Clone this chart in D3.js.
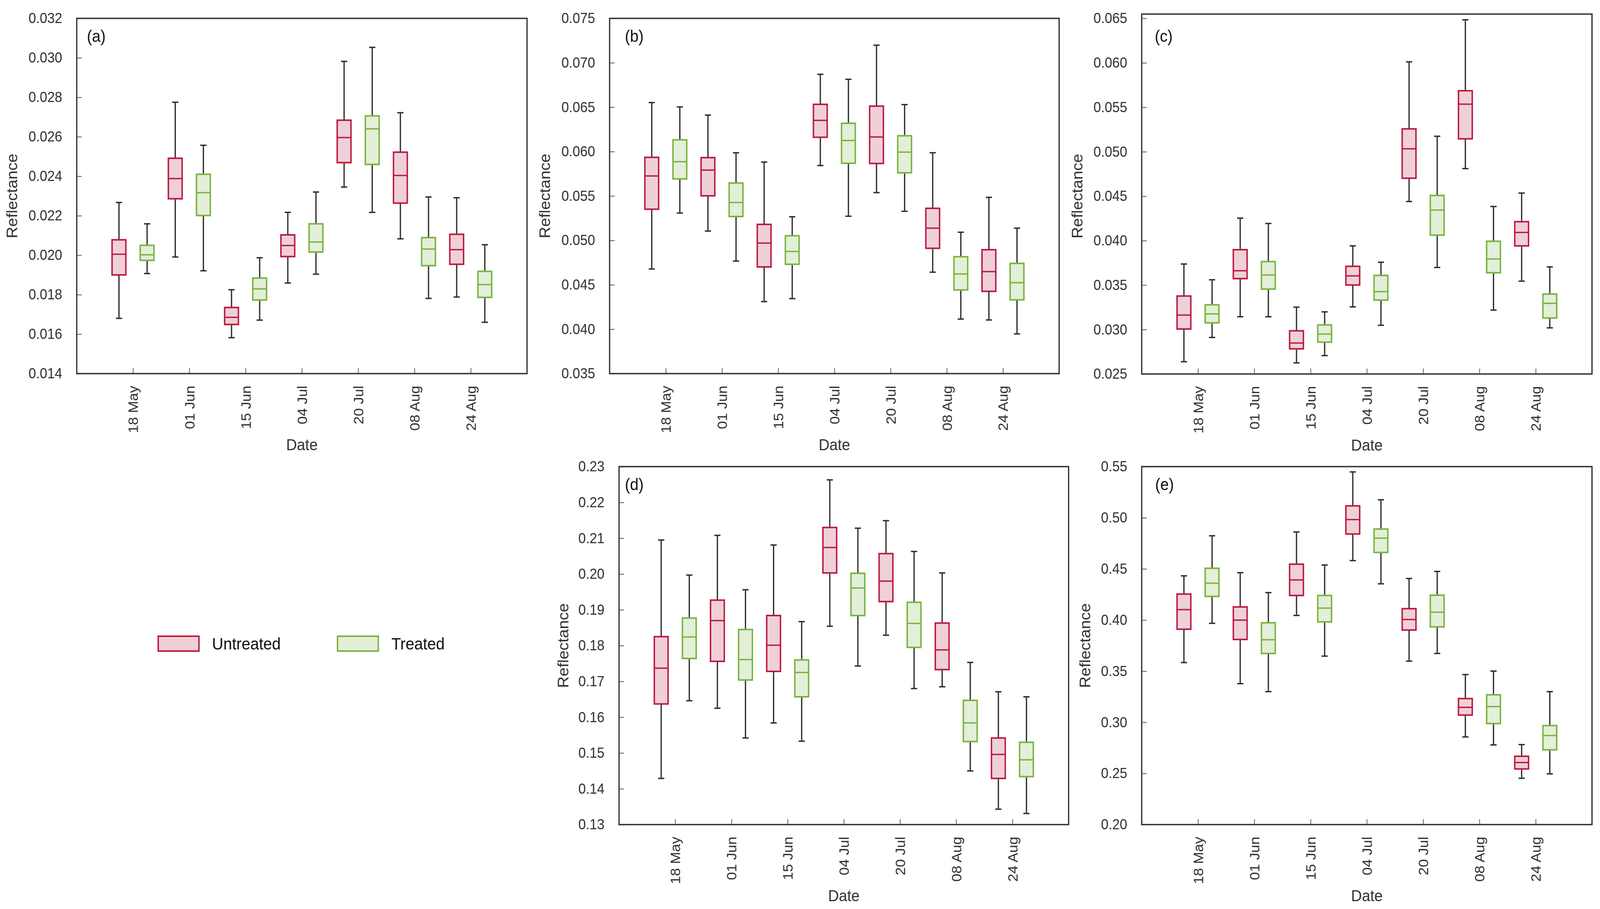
<!DOCTYPE html>
<html>
<head>
<meta charset="utf-8">
<script src="https://cdn.jsdelivr.net/npm/d3@7"></script>
<style>
  html, body { margin: 0; padding: 0; background: #fff; overflow: hidden; }
  #chart { width: 100vw; height: 100vh; }
  svg { display: block; font-family: "Liberation Sans", Arial, sans-serif; }
</style>
</head>
<body>
<div id="chart"></div>
<script>
// dates on the x axis
var dates = ["18 May", "01 Jun", "15 Jun", "04 Jul", "20 Jul", "08 Aug", "24 Aug"];

// each box: [lower whisker, q1, median, q3, upper whisker]
var aUntreated = [
  [0.01680, 0.01900, 0.02005, 0.02078, 0.02267],
  [0.01991, 0.02286, 0.02388, 0.02491, 0.02775],
  [0.01582, 0.01649, 0.01685, 0.01735, 0.01825],
  [0.01859, 0.01993, 0.02049, 0.02103, 0.02217],
  [0.02345, 0.02469, 0.02596, 0.02684, 0.02982],
  [0.02083, 0.02264, 0.02404, 0.02522, 0.02722],
  [0.01788, 0.01954, 0.02028, 0.02106, 0.02291]
];
var aTreated = [
  [0.01907, 0.01974, 0.02002, 0.02050, 0.02159],
  [0.01921, 0.02201, 0.02317, 0.02410, 0.02557],
  [0.01671, 0.01773, 0.01829, 0.01884, 0.01987],
  [0.01904, 0.02016, 0.02067, 0.02159, 0.02320],
  [0.02217, 0.02460, 0.02640, 0.02706, 0.03053],
  [0.01781, 0.01947, 0.02031, 0.02089, 0.02295],
  [0.01660, 0.01786, 0.01851, 0.01918, 0.02053]
];
var bUntreated = [
  [0.04678, 0.05351, 0.05725, 0.05935, 0.06552],
  [0.05105, 0.05502, 0.05791, 0.05932, 0.06411],
  [0.04311, 0.04701, 0.04970, 0.05180, 0.05882],
  [0.05843, 0.06161, 0.06352, 0.06532, 0.06870],
  [0.05538, 0.05866, 0.06165, 0.06512, 0.07198],
  [0.04642, 0.04911, 0.05138, 0.05361, 0.05987],
  [0.04104, 0.04426, 0.04649, 0.04895, 0.05485]
];
var bTreated = [
  [0.05308, 0.05692, 0.05886, 0.06132, 0.06503],
  [0.04767, 0.05269, 0.05426, 0.05646, 0.05987],
  [0.04344, 0.04731, 0.04875, 0.05052, 0.05266],
  [0.05272, 0.05869, 0.06125, 0.06319, 0.06814],
  [0.05328, 0.05761, 0.05994, 0.06178, 0.06529],
  [0.04114, 0.04442, 0.04622, 0.04816, 0.05092],
  [0.03947, 0.04331, 0.04524, 0.04741, 0.05138]
];
var cUntreated = [
  [0.02638, 0.03006, 0.03163, 0.03377, 0.03737],
  [0.03144, 0.03573, 0.03662, 0.03898, 0.04253],
  [0.02625, 0.02783, 0.02848, 0.02986, 0.03252],
  [0.03255, 0.03501, 0.03603, 0.03711, 0.03941],
  [0.04440, 0.04702, 0.05033, 0.05257, 0.06011],
  [0.04810, 0.05145, 0.05535, 0.05686, 0.06484],
  [0.03544, 0.03941, 0.04092, 0.04213, 0.04535]
];
var cTreated = [
  [0.02911, 0.03075, 0.03176, 0.03278, 0.03560],
  [0.03144, 0.03455, 0.03613, 0.03764, 0.04193],
  [0.02707, 0.02858, 0.02950, 0.03052, 0.03199],
  [0.03048, 0.03331, 0.03426, 0.03609, 0.03757],
  [0.03698, 0.04062, 0.04344, 0.04508, 0.05174],
  [0.03219, 0.03639, 0.03793, 0.03993, 0.04384],
  [0.03019, 0.03130, 0.03294, 0.03399, 0.03705]
];
var dUntreated = [
  [0.1429, 0.1637, 0.1737, 0.1825, 0.2095],
  [0.1625, 0.1756, 0.1870, 0.1927, 0.2108],
  [0.1584, 0.1728, 0.1801, 0.1884, 0.2081],
  [0.1854, 0.2003, 0.2074, 0.2130, 0.2263],
  [0.1829, 0.1923, 0.1980, 0.2057, 0.2149],
  [0.1685, 0.1733, 0.1788, 0.1863, 0.2003],
  [0.1343, 0.1429, 0.1496, 0.1542, 0.1671]
];
var dTreated = [
  [0.1646, 0.1764, 0.1824, 0.1877, 0.1997],
  [0.1542, 0.1704, 0.1761, 0.1845, 0.1956],
  [0.1533, 0.1657, 0.1725, 0.1760, 0.1867],
  [0.1743, 0.1884, 0.1961, 0.2002, 0.2128],
  [0.1680, 0.1795, 0.1862, 0.1921, 0.2063],
  [0.1450, 0.1532, 0.1584, 0.1647, 0.1753],
  [0.1331, 0.1434, 0.1481, 0.1530, 0.1657]
];
var eUntreated = [
  [0.3584, 0.3910, 0.4102, 0.4254, 0.4432],
  [0.3378, 0.3810, 0.3999, 0.4128, 0.4463],
  [0.4045, 0.4240, 0.4392, 0.4546, 0.4861],
  [0.4581, 0.4841, 0.4982, 0.5116, 0.5448],
  [0.3598, 0.3902, 0.4005, 0.4111, 0.4406],
  [0.2857, 0.3071, 0.3146, 0.3232, 0.3467],
  [0.2453, 0.2544, 0.2607, 0.2668, 0.2782]
];
var eTreated = [
  [0.3968, 0.4231, 0.4360, 0.4506, 0.4824],
  [0.3300, 0.3673, 0.3807, 0.3973, 0.4268],
  [0.3647, 0.3982, 0.4117, 0.4240, 0.4538],
  [0.4354, 0.4661, 0.4801, 0.4890, 0.5176],
  [0.3673, 0.3933, 0.4077, 0.4243, 0.4475],
  [0.2779, 0.2988, 0.3154, 0.3269, 0.3501],
  [0.2496, 0.2731, 0.2871, 0.2968, 0.3300]
];

// y tick values per panel
var aTicks = [0.014, 0.016, 0.018, 0.020, 0.022, 0.024, 0.026, 0.028, 0.030, 0.032];
var bTicks = [0.035, 0.040, 0.045, 0.050, 0.055, 0.060, 0.065, 0.070, 0.075];
var cTicks = [0.025, 0.030, 0.035, 0.040, 0.045, 0.050, 0.055, 0.060, 0.065];
var dTicks = [0.13, 0.14, 0.15, 0.16, 0.17, 0.18, 0.19, 0.20, 0.21, 0.22, 0.23];
var eTicks = [0.20, 0.25, 0.30, 0.35, 0.40, 0.45, 0.50, 0.55];

var groups = ["Untreated", "Treated"];
var stroke = { Untreated: "#bd1a40", Treated: "#7ab43f" };
var fill = { Untreated: "#efd0d8", Treated: "#e3efd8" };

var W = 4399, H = 2326;
// the drawing is laid out on a 4399x2326 grid and stretched to the window
var svg = d3.select("#chart").append("svg")
    .attr("viewBox", "0 0 " + W + " " + H)
    .attr("preserveAspectRatio", "none")
    .attr("width", "100%")
    .attr("height", "100%");

var panels = [
  { tag: "(a)", u: aUntreated, t: aTreated, ticks: aTicks, fmt: ".3f",
    left: 211, right: 1449, top: 47, bottom: 956, frameTop: 47, tagDx: 28, titleDx: 178 },
  { tag: "(b)", u: bUntreated, t: bTreated, ticks: bTicks, fmt: ".3f",
    left: 1676, right: 2912, top: 47, bottom: 956, frameTop: 47, tagDx: 42, titleDx: 178 },
  { tag: "(c)", u: cUntreated, t: cTreated, ticks: cTicks, fmt: ".3f",
    left: 3139, right: 4377, top: 47, bottom: 957, frameTop: 36, tagDx: 36, titleDx: 177 },
  { tag: "(d)", u: dUntreated, t: dTreated, ticks: dTicks, fmt: ".2f",
    left: 1702, right: 2938, top: 1194, bottom: 2110, frameTop: 1194, tagDx: 16, titleDx: 154 },
  { tag: "(e)", u: eUntreated, t: eTreated, ticks: eTicks, fmt: ".2f",
    left: 3139, right: 4377, top: 1194, bottom: 2110, frameTop: 1194, tagDx: 37, titleDx: 156 }
];

panels.forEach(function (p) {
    var g = svg.append("g");

    var x = d3.scalePoint().domain(dates).range([p.left, p.right]).padding(1);
    var y = d3.scaleLinear()
        .domain([p.ticks[0], p.ticks[p.ticks.length - 1]])
        .range([p.bottom, p.top]);
    var step = x.step();
    var bw = step * 0.245;
    var cap = step * 0.11;

    // y axis
    var ya = g.append("g")
        .attr("transform", "translate(" + p.left + ",0)")
        .call(d3.axisLeft(y).tickValues(p.ticks).tickFormat(d3.format(p.fmt))
            .tickSize(-14).tickPadding(40));
    ya.select(".domain").remove();
    ya.selectAll(".tick line").attr("stroke", "#777").attr("stroke-width", 2.5);
    ya.selectAll(".tick text").attr("fill", "#333").style("font-size", "37px");

    // x axis
    var xa = g.append("g")
        .attr("transform", "translate(0," + p.bottom + ")")
        .call(d3.axisBottom(x).tickSize(-14));
    xa.select(".domain").remove();
    xa.selectAll(".tick line").attr("stroke", "#777").attr("stroke-width", 2.5);
    xa.selectAll(".tick text")
        .attr("fill", "#333")
        .style("font-size", "37px")
        .attr("transform", "rotate(-90)")
        .attr("x", -31)
        .attr("y", 0)
        .attr("dy", "0.36em")
        .style("text-anchor", "end");

    // frame
    g.append("rect")
        .attr("x", p.left).attr("y", p.frameTop)
        .attr("width", p.right - p.left).attr("height", p.bottom - p.frameTop)
        .attr("fill", "none").attr("stroke", "#333").attr("stroke-width", 3.5);

    // boxes
    groups.forEach(function (grp, gi) {
        var vals = gi === 0 ? p.u : p.t;
        var off = gi === 0 ? -0.25 * step : 0.25 * step;
        var bx = g.selectAll(null).data(vals).enter().append("g")
            .attr("transform", function (d, i) { return "translate(" + (x(dates[i]) + off) + ",0)"; });

        // whiskers
        bx.append("line")
            .attr("x1", 0).attr("x2", 0)
            .attr("y1", function (d) { return y(d[4]); })
            .attr("y2", function (d) { return y(d[3]); })
            .attr("stroke", "#2e2e2e").attr("stroke-width", 3.5);
        bx.append("line")
            .attr("x1", 0).attr("x2", 0)
            .attr("y1", function (d) { return y(d[1]); })
            .attr("y2", function (d) { return y(d[0]); })
            .attr("stroke", "#2e2e2e").attr("stroke-width", 3.5);
        [0, 4].forEach(function (k) {
            bx.append("line")
                .attr("x1", -cap / 2).attr("x2", cap / 2)
                .attr("y1", function (d) { return y(d[k]); })
                .attr("y2", function (d) { return y(d[k]); })
                .attr("stroke", "#2e2e2e").attr("stroke-width", 3.5);
        });

        bx.append("rect")
            .attr("x", -bw / 2).attr("width", bw)
            .attr("y", function (d) { return y(d[3]); })
            .attr("height", function (d) { return y(d[1]) - y(d[3]); })
            .attr("fill", fill[grp])
            .attr("stroke", stroke[grp]).attr("stroke-width", 4);

        bx.append("line")
            .attr("x1", -bw / 2).attr("x2", bw / 2)
            .attr("y1", function (d) { return y(d[2]); })
            .attr("y2", function (d) { return y(d[2]); })
            .attr("stroke", stroke[grp]).attr("stroke-width", 3.5);
    });

    // panel tag
    g.append("text")
        .attr("x", p.left + p.tagDx).attr("y", p.top + 60)
        .style("font-size", "42px").attr("fill", "#111")
        .text(p.tag);

    // axis titles
    g.append("text")
        .attr("transform", "translate(" + (p.left - p.titleDx) + "," + ((p.top + p.bottom) / 2) + ") rotate(-90)")
        .attr("dy", "0.35em")
        .style("text-anchor", "middle").style("font-size", "41px").attr("fill", "#333")
        .text("Reflectance");
    g.append("text")
        .attr("x", (p.left + p.right) / 2).attr("y", p.bottom + 196)
        .style("text-anchor", "middle").style("font-size", "41px").attr("fill", "#333")
        .text("Date");
});

// legend
var legendX = d3.scalePoint().domain(groups).range([435, 928]);
var lg = svg.selectAll(".legend").data(groups).enter().append("g")
    .attr("class", "legend")
    .attr("transform", function (d) { return "translate(" + legendX(d) + ",1647)"; });
lg.append("rect")
    .attr("x", 0).attr("y", -19).attr("width", 112).attr("height", 38)
    .attr("fill", function (d) { return fill[d]; })
    .attr("stroke", function (d) { return stroke[d]; })
    .attr("stroke-width", 4);
lg.append("text")
    .attr("x", 148).attr("y", 0).attr("dy", "0.35em")
    .style("font-size", "43px").attr("fill", "#111")
    .text(function (d) { return d; });
</script>
</body>
</html>
